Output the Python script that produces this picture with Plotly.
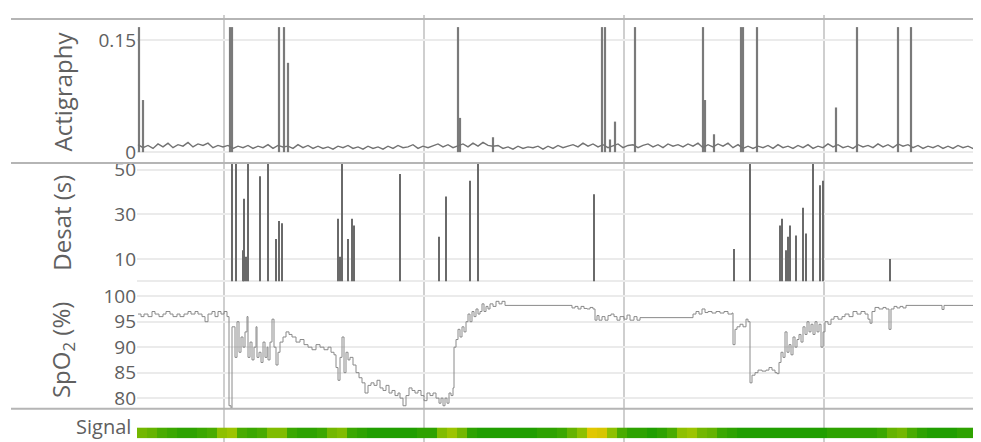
import plotly.graph_objects as go

# ---------------- data (time axis in hours) ----------------
hour_ticks = [1, 2, 3, 4]

# Actigraphy: background activity level (x1000) sampled every 0.025 h from 0.57 h
act_start, act_step = 0.57, 0.025
act_base_milli = [
    10, 6, 9, 5, 11, 7, 12, 6, 10, 8, 13, 7, 11, 9, 12, 6, 9, 7,
    9, 5, 8, 6, 9, 5, 8, 6, 10, 5, 9, 7, 8, 5, 10, 6, 9, 5,
    8, 5, 7, 4, 8, 6, 9, 5, 7, 4, 8, 5, 7, 4, 8, 5, 9, 6,
    7, 10, 5, 8, 6, 9, 11, 7, 10, 6, 8, 11, 7, 12, 8, 13, 9, 8,
    9, 5, 7, 4, 8, 5, 7, 6, 8, 4, 8, 5, 9, 6, 8, 10, 7, 12,
    8, 11, 7, 10, 6, 9, 11, 6, 9, 10, 6, 9, 11, 7, 10, 6, 11, 8,
    10, 7, 11, 8, 12, 6, 10, 7, 11, 8, 12, 6, 10, 5, 8, 5, 8, 6,
    9, 5, 10, 6, 8, 5, 9, 6, 10, 5, 8, 6, 11, 7, 10, 6, 8, 5,
    10, 7, 9, 6, 11, 7, 10, 6, 11, 8, 10, 6, 9, 5, 8, 6, 9, 5,
    8, 5, 9, 6, 8, 5, 7, 6,
]
# Actigraphy movement spikes
act_spike_time = [0.575, 0.595, 1.030, 1.040, 1.275, 1.300, 1.320, 2.170, 2.180,
                  2.345, 2.890, 2.905, 2.930, 2.955, 3.055, 3.395, 3.405, 3.450,
                  3.585, 3.595, 3.665, 4.060, 4.165, 4.370, 4.435]
act_spike_value = [0.168, 0.070, 0.168, 0.168, 0.168, 0.168, 0.120, 0.168, 0.046,
                   0.020, 0.168, 0.168, 0.017, 0.041, 0.168, 0.168, 0.070, 0.024,
                   0.168, 0.168, 0.168, 0.060, 0.168, 0.168, 0.168]

# Desaturation events (duration in seconds)
desat_time = [1.040, 1.060, 1.095, 1.100, 1.110, 1.120, 1.180, 1.220, 1.260, 1.275,
              1.290, 1.570, 1.580, 1.590, 1.620, 1.640, 1.650, 1.880, 2.075, 2.110,
              2.230, 2.270, 2.850, 3.550, 3.630, 3.780, 3.790, 3.810, 3.820, 3.830,
              3.860, 3.895, 3.910, 3.945, 3.980, 3.995, 4.330]
desat_sec = [60, 60, 14, 37, 11, 60, 47, 60, 19, 27,
             26, 28, 11, 60, 19, 28, 25, 48, 20, 38,
             45, 60, 39, 14.5, 60, 25, 28, 14, 20, 25,
             20.5, 33, 21.5, 60, 43, 45, 10]

# SpO2 (%) readings
spo2_readings = [
    (0.570, 96.5), (0.585, 96), (0.600, 96.5), (0.620, 96), (0.640, 97), (0.655, 96.5),
    (0.675, 96), (0.695, 96.5), (0.710, 97), (0.730, 96.5), (0.745, 96), (0.765, 96.5),
    (0.780, 96), (0.800, 96.5), (0.820, 97), (0.835, 96.5), (0.855, 97), (0.870, 96.5),
    (0.890, 96), (0.905, 95), (0.920, 96.5), (0.940, 97), (0.955, 96), (0.970, 97),
    (0.985, 96.5), (1.000, 97), (1.015, 96), (1.025, 78.5), (1.035, 78), (1.040, 94),
    (1.055, 88), (1.065, 95), (1.075, 89), (1.085, 92), (1.095, 90), (1.105, 93),
    (1.115, 96), (1.120, 88), (1.130, 91), (1.140, 87.5), (1.150, 90), (1.160, 94),
    (1.165, 88), (1.175, 89), (1.185, 87), (1.195, 91), (1.205, 88), (1.215, 90),
    (1.220, 87.5), (1.230, 91), (1.240, 95.5), (1.250, 90), (1.260, 86.5), (1.270, 89),
    (1.280, 91), (1.295, 92), (1.310, 93), (1.325, 92.5), (1.340, 92), (1.360, 91),
    (1.380, 91.5), (1.400, 90.5), (1.420, 90), (1.440, 89.5), (1.460, 90.5), (1.480, 90),
    (1.500, 89.5), (1.520, 90), (1.535, 89), (1.550, 88.5), (1.560, 86), (1.570, 83.5),
    (1.580, 88), (1.590, 92), (1.600, 85), (1.610, 89), (1.620, 87.5), (1.630, 88),
    (1.645, 86.5), (1.660, 85), (1.675, 84), (1.690, 83), (1.705, 81), (1.720, 82.5),
    (1.735, 83), (1.750, 82.5), (1.765, 83.5), (1.780, 82), (1.795, 81.5), (1.810, 82.5),
    (1.825, 81), (1.840, 81.5), (1.855, 80.5), (1.870, 81), (1.880, 80), (1.895, 78.5),
    (1.910, 80.5), (1.925, 82), (1.940, 81.5), (1.955, 81), (1.970, 81.5), (1.985, 80.5),
    (2.000, 79.5), (2.015, 81), (2.030, 80.5), (2.045, 81), (2.060, 80), (2.075, 79),
    (2.085, 80), (2.095, 78.5), (2.105, 80), (2.115, 79), (2.125, 81), (2.135, 80.5),
    (2.145, 82), (2.150, 90), (2.160, 91.5), (2.170, 93.5), (2.180, 92), (2.190, 94),
    (2.200, 93), (2.210, 95), (2.220, 96.5), (2.230, 95), (2.240, 97), (2.250, 96),
    (2.260, 97.5), (2.270, 96.5), (2.280, 97), (2.290, 98.5), (2.300, 97), (2.310, 98),
    (2.320, 97.5), (2.330, 98.5), (2.345, 98), (2.360, 99), (2.375, 98.5), (2.390, 99),
    (2.405, 98.2), (2.740, 97.7), (2.755, 98), (2.770, 97.5), (2.785, 98), (2.800, 97.6),
    (2.815, 97.5), (2.830, 97.8), (2.845, 97.5), (2.855, 95.3), (2.865, 96.2), (2.875, 95.3),
    (2.890, 96), (2.905, 95.3), (2.920, 96.2), (2.935, 96.5), (2.950, 96), (2.965, 95.3),
    (2.980, 96), (3.000, 95.5), (3.015, 96.3), (3.030, 95.3), (3.050, 96), (3.065, 95.3),
    (3.080, 95.8), (3.345, 96.5), (3.360, 97), (3.375, 96.5), (3.390, 97.5), (3.405, 96.8),
    (3.420, 97), (3.440, 96.7), (3.460, 97), (3.480, 96.7), (3.500, 97), (3.520, 96.5),
    (3.540, 96.7), (3.545, 90.5), (3.555, 93.5), (3.565, 94), (3.580, 94.5), (3.595, 94),
    (3.610, 95.5), (3.620, 95), (3.630, 83), (3.640, 84.5), (3.655, 85), (3.670, 85.5),
    (3.690, 85.3), (3.710, 85.5), (3.725, 86), (3.740, 85.5), (3.755, 85), (3.765, 84.8),
    (3.775, 87), (3.785, 89), (3.795, 88), (3.805, 93), (3.815, 89), (3.825, 90.5),
    (3.835, 88.5), (3.845, 92), (3.855, 90), (3.865, 91.5), (3.875, 92.5), (3.885, 91),
    (3.895, 94), (3.905, 92.5), (3.915, 95), (3.925, 93), (3.935, 94.5), (3.945, 92.5),
    (3.955, 95), (3.965, 93), (3.975, 94.5), (3.985, 90), (3.995, 93), (4.005, 95),
    (4.020, 94.5), (4.035, 95.5), (4.050, 96), (4.070, 95.5), (4.090, 96), (4.105, 96.5),
    (4.125, 96), (4.145, 97), (4.165, 96.5), (4.185, 97), (4.205, 96.5), (4.220, 95.5),
    (4.230, 94.7), (4.240, 97), (4.255, 97.8), (4.275, 97.5), (4.295, 97.8), (4.310, 97.5),
    (4.325, 93.5), (4.335, 97.5), (4.350, 98), (4.365, 97.7), (4.380, 98), (4.395, 97.7),
    (4.410, 98.2), (4.590, 97.4), (4.600, 98.2), (4.830, 98.2),
]
spo2_time = [p[0] for p in spo2_readings]
spo2_pct = [p[1] for p in spo2_readings]

# Signal quality (0 = good / green, 1 = poor / yellow), one cell per 0.05 h from 0.59 h
signal_start, signal_step = 0.59, 0.05
signal_quality = [
    0.35, 0.3, 0.2, 0.15, 0.1, 0.1, 0.15, 0.2, 0.45, 0.5,
    0.2, 0.15, 0.2, 0.4, 0.4, 0.15, 0.1, 0.1, 0.15, 0.35,
    0.4, 0.15, 0.1, 0.05, 0.05, 0.05, 0.05, 0.05, 0.1, 0.1,
    0.4, 0.5, 0.35, 0.1, 0.05, 0.05, 0.05, 0.05, 0.05, 0.05,
    0.1, 0.1, 0.15, 0.3, 0.45, 0.85, 0.8, 0.45, 0.2, 0.1,
    0.1, 0.05, 0.1, 0.2, 0.45, 0.5, 0.35, 0.3, 0.15, 0.1,
    0.05, 0.05, 0.05, 0.05, 0.05, 0.05, 0.05, 0.05, 0.05, 0.1,
    0.1, 0.1, 0.1, 0.1, 0.15, 0.3, 0.35, 0.2, 0.1, 0.05,
    0.05, 0.05, 0.1, 0.1, 0.1,
]

act_ticks = [0, 0.15]
act_ticktext = ["0", "0.15"]
desat_ticks = [10, 30, 50]
spo2_ticks = [80, 85, 90, 95, 100]

# ---------------- layout helpers ----------------
# The page places the figure 8px in from the top-left corner; positions below
# are given in page pixels and converted to figure-paper fractions.
W, H = 981, 442
OFF = 8
def py(px):
    return 1 - (px - OFF) / H
def pxx(px):
    return (px - OFF) / W

PX_PER_HOUR = 200.0
PX_HOUR0 = 24.0          # page pixel where t = 0 h would sit
x_left_px = 137
x_range = [(x_left_px - PX_HOUR0) / PX_PER_HOUR, (W + OFF - PX_HOUR0) / PX_PER_HOUR]

FONT = "Open Sans"
TXT = "#606060"
GRID = "#ebebeb"

act_time = [act_start + i * act_step for i in range(len(act_base_milli))]
act_level = [v / 1000 for v in act_base_milli]

fig = go.Figure()
fig.add_trace(go.Scatter(x=act_time, y=act_level, mode="lines",
                         line=dict(color="#727272", width=1.4), yaxis="y",
                         hoverinfo="skip"))
fig.add_trace(go.Bar(x=act_spike_time, y=act_spike_value, width=0.011,
                     marker=dict(color="#7a7a7a", line=dict(width=0)), yaxis="y"))
fig.add_trace(go.Bar(x=desat_time, y=desat_sec, width=0.01,
                     marker=dict(color="#6a6a6a", line=dict(width=0)), yaxis="y2"))
fig.add_trace(go.Scatter(x=spo2_time, y=spo2_pct, mode="lines", line_shape="hv",
                         line=dict(color="#8a8a8a", width=1), yaxis="y3"))
fig.add_trace(go.Heatmap(z=[signal_quality], x0=signal_start, dx=signal_step,
                         y=[0], yaxis="y4", zmin=0, zmax=1, showscale=False,
                         colorscale=[[0, "#129a00"], [0.5, "#9cc400"], [1, "#ffc800"]]))

yfont = dict(family=FONT, size=19, color=TXT)
common_y = dict(anchor="x", showline=False, zeroline=False, gridcolor=GRID,
                gridwidth=2, ticks="", tickfont=yfont, fixedrange=True)

fig.update_layout(
    width=W, height=H,
    margin=dict(l=0, r=0, t=0, b=0),
    paper_bgcolor="white", plot_bgcolor="white",
    showlegend=False, barmode="overlay",
    xaxis=dict(domain=[pxx(x_left_px), 1], range=x_range, showgrid=False,
               zeroline=False, showticklabels=False, showline=False, ticks="",
               anchor="y4"),
    yaxis=dict(domain=[py(159), py(12)], range=[-0.0145, 0.179],
               tickvals=act_ticks, ticktext=act_ticktext, **common_y),
    yaxis2=dict(domain=[py(280), py(159)], range=[0, 53], tickvals=desat_ticks,
                **{**common_y, "zeroline": True, "zerolinecolor": GRID, "zerolinewidth": 2}),
    yaxis3=dict(domain=[py(410), py(280)], range=[77.9, 102.9], tickvals=spo2_ticks,
                **common_y),
    yaxis4=dict(domain=[py(440), py(429)], anchor="x", showticklabels=False,
                showgrid=False, zeroline=False, fixedrange=True),
)

shapes = []
for t in hour_ticks:
    shapes.append(dict(type="line", xref="x", yref="paper", x0=t, x1=t,
                       y0=0, y1=py(8), line=dict(color="#cfcfcf", width=2), layer="below"))
for ypx in (12, 159, 410):
    shapes.append(dict(type="line", xref="paper", yref="paper", x0=pxx(11), x1=1,
                       y0=py(ypx), y1=py(ypx), line=dict(color="#b5b5b5", width=2)))
fig.update_layout(shapes=shapes)

titles = [("Actigraphy", 86), ("Desat (s)", 220), ("SpO<sub>2</sub> (%)", 350)]
ann = []
for text, ypx in titles:
    ann.append(dict(text=text, xref="paper", yref="paper", x=pxx(62), y=py(ypx),
                    textangle=-90, showarrow=False, xanchor="center", yanchor="middle",
                    font=dict(family=FONT, size=24, color=TXT)))
ann.append(dict(text="Signal", xref="paper", yref="paper", x=pxx(133), y=py(428),
                showarrow=False, xanchor="right", yanchor="middle",
                font=dict(family=FONT, size=20, color=TXT)))
fig.update_layout(annotations=ann)

fig.write_html("out.html")
